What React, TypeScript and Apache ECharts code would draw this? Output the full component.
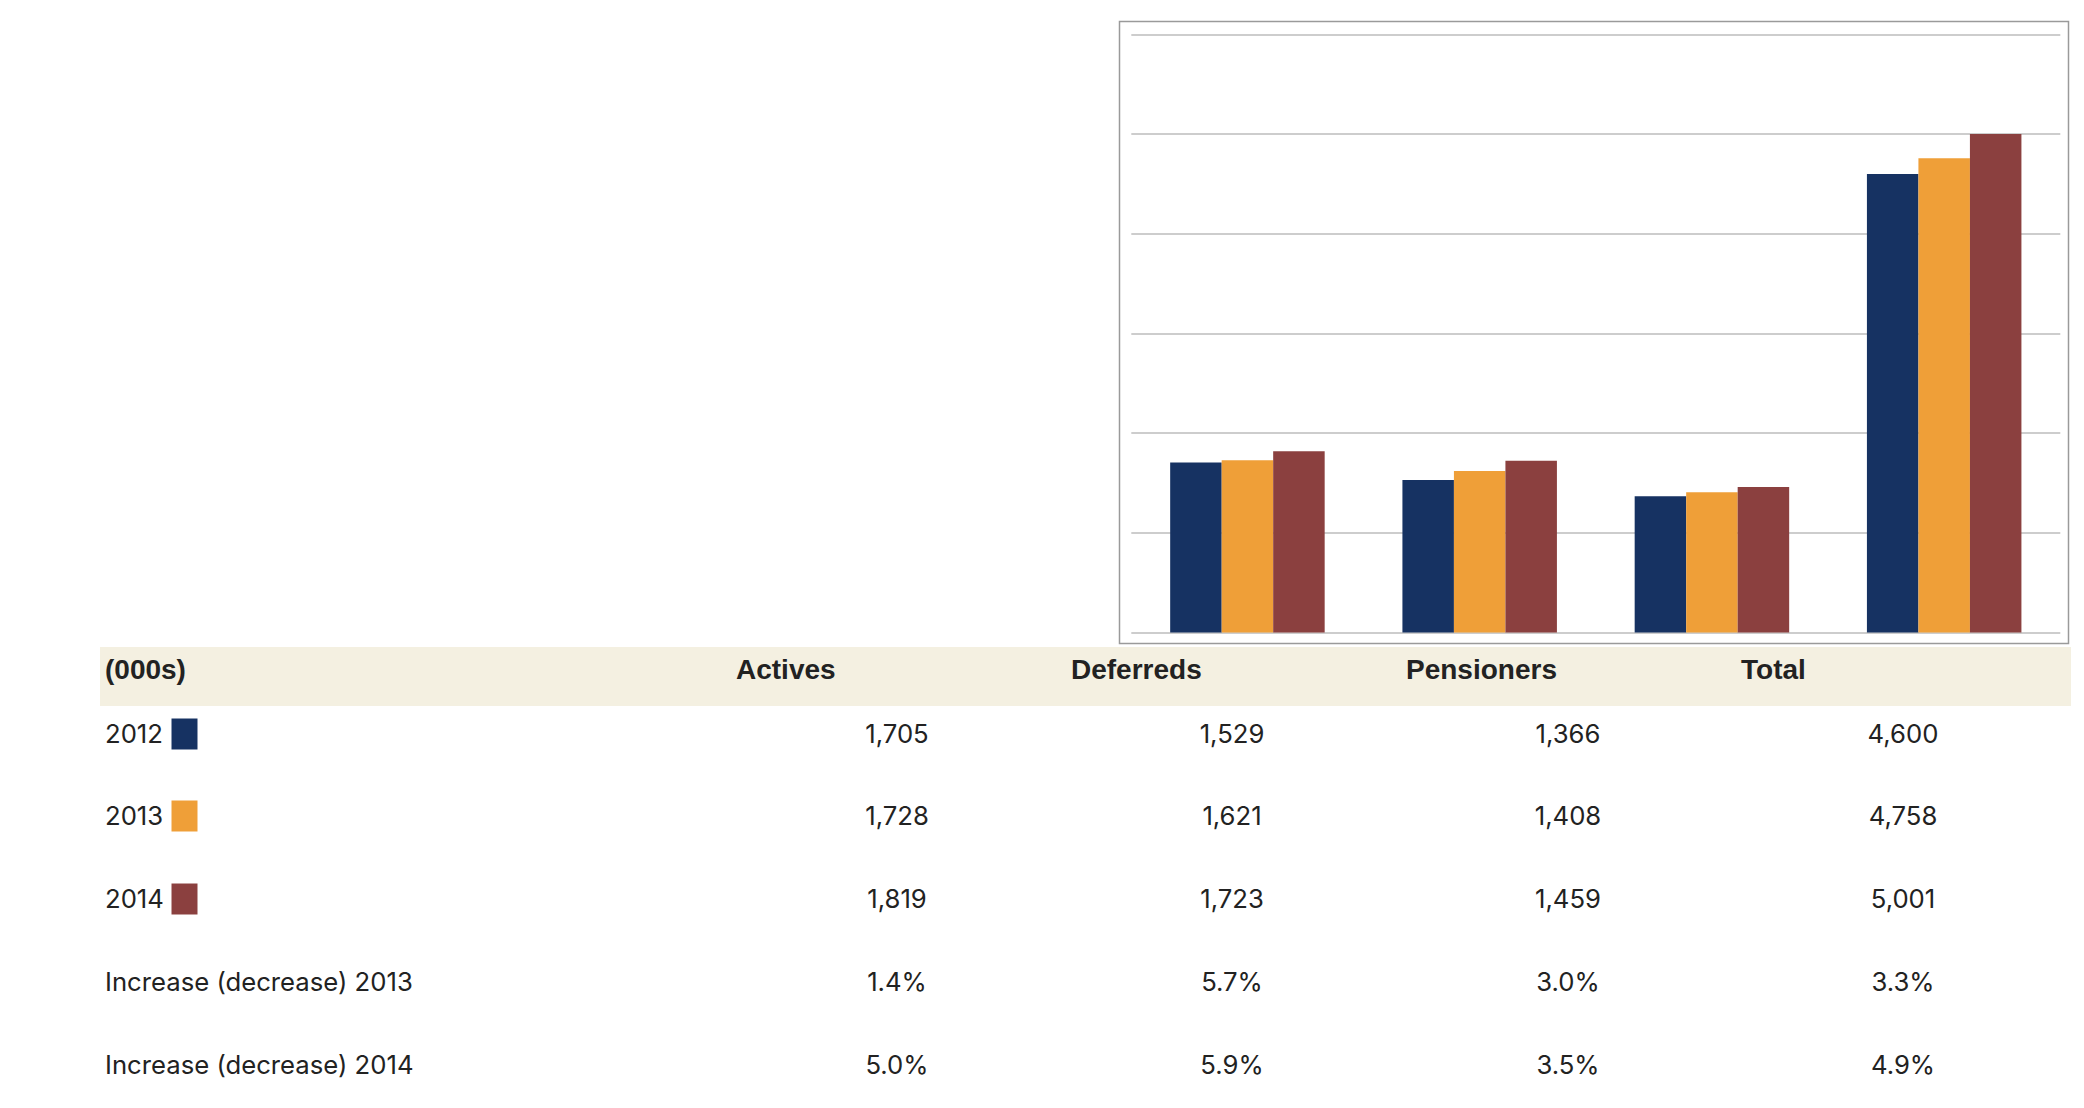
import React, { useEffect, useRef } from "react";
import * as echarts from "echarts";

const categories = ["Actives", "Deferreds", "Pensioners", "Total"];
const years = ["2012", "2013", "2014"];
const values2012 = [1705, 1529, 1366, 4600];
const values2013 = [1728, 1621, 1408, 4758];
const values2014 = [1819, 1723, 1459, 5001];
const increase2013 = ["1.4%", "5.7%", "3.0%", "3.3%"];
const increase2014 = ["5.0%", "5.9%", "3.5%", "4.9%"];
const increaseLabels = ["Increase (decrease) 2013", "Increase (decrease) 2014"];
const headerLabel = "(000s)";
const yMin = 0;
const yMax = 6000;
const yInterval = 1000;

const colors = ["#163262", "#EF9F38", "#8B403F"];

export default function App() {
  const ref = useRef<HTMLDivElement>(null);

  useEffect(() => {
    if (!ref.current) return;
    const chart = echarts.init(ref.current, null, { renderer: "svg" });

    const seriesValues = [values2012, values2013, values2014];
    const fmt = (v: number) => v.toLocaleString("en-US");

    const headerX = [736, 1071, 1406, 1741];
    const colCenters = [897, 1232, 1568, 1903];
    const rowY = [733, 815, 898, 981, 1064];
    const textColor = "#222222";
    const rowFont = "25.7px Inter";
    const headFont = "bold 28px 'Liberation Sans'";

    const graphics: any[] = [];
    graphics.push({
      type: "rect",
      shape: { x: 1119.5, y: 21.5, width: 949, height: 622 },
      style: { fill: "none", stroke: "#9a9a9a", lineWidth: 1.5 },
      silent: true,
    });
    graphics.push({
      type: "rect",
      shape: { x: 100, y: 647, width: 1971, height: 59 },
      style: { fill: "#F4F0E1" },
      silent: true,
    });
    graphics.push({
      type: "text",
      style: {
        text: headerLabel,
        x: 105,
        y: 669.5,
        fill: textColor,
        font: headFont,
        textAlign: "left",
        textVerticalAlign: "middle",
      },
    });
    categories.forEach((c, i) => {
      graphics.push({
        type: "text",
        style: {
          text: c,
          x: headerX[i],
          y: 669.5,
          fill: textColor,
          font: headFont,
          textAlign: "left",
          textVerticalAlign: "middle",
        },
      });
    });
    years.forEach((y, r) => {
      graphics.push({
        type: "text",
        style: {
          text: y,
          x: 105,
          y: rowY[r],
          fill: textColor,
          font: rowFont,
          textAlign: "left",
          textVerticalAlign: "middle",
        },
      });
      graphics.push({
        type: "rect",
        shape: { x: 171.5, y: rowY[r] - 14.5, width: 26, height: 31 },
        style: { fill: colors[r] },
      });
      seriesValues[r].forEach((v, i) => {
        graphics.push({
          type: "text",
          style: {
            text: fmt(v),
            x: colCenters[i],
            y: rowY[r],
            fill: textColor,
            font: rowFont,
            textAlign: "center",
            textVerticalAlign: "middle",
          },
        });
      });
    });
    [increase2013, increase2014].forEach((arr, k) => {
      const r = 3 + k;
      graphics.push({
        type: "text",
        style: {
          text: increaseLabels[k],
          x: 105,
          y: rowY[r],
          fill: textColor,
          font: rowFont,
          textAlign: "left",
          textVerticalAlign: "middle",
        },
      });
      arr.forEach((v, i) => {
        graphics.push({
          type: "text",
          style: {
            text: v,
            x: colCenters[i],
            y: rowY[r],
            fill: textColor,
            font: rowFont,
            textAlign: "center",
            textVerticalAlign: "middle",
          },
        });
      });
    });

    chart.setOption({
      animation: false,
      backgroundColor: "#ffffff",
      grid: { left: 1131.3, top: 34.5, width: 929, height: 598, containLabel: false },
      xAxis: {
        type: "category",
        data: categories,
        axisLine: { show: false },
        axisTick: { show: false },
        axisLabel: { show: false },
      },
      yAxis: {
        type: "value",
        min: yMin,
        max: yMax,
        interval: yInterval,
        axisLine: { show: false },
        axisTick: { show: false },
        axisLabel: { show: false },
        splitLine: { show: true, lineStyle: { color: "#bdbdbd", width: 1.5 } },
      },
      series: years.map((y, i) => ({
        name: y,
        type: "bar",
        data: seriesValues[i],
        barWidth: 51.5,
        barGap: "0%",
        itemStyle: { color: colors[i] },
      })),
      graphic: graphics,
    });

    return () => chart.dispose();
  }, []);

  return (
    <div
      ref={ref}
      style={{ position: "fixed", left: 0, top: 0, width: 2084, height: 1108 }}
    />
  );
}
